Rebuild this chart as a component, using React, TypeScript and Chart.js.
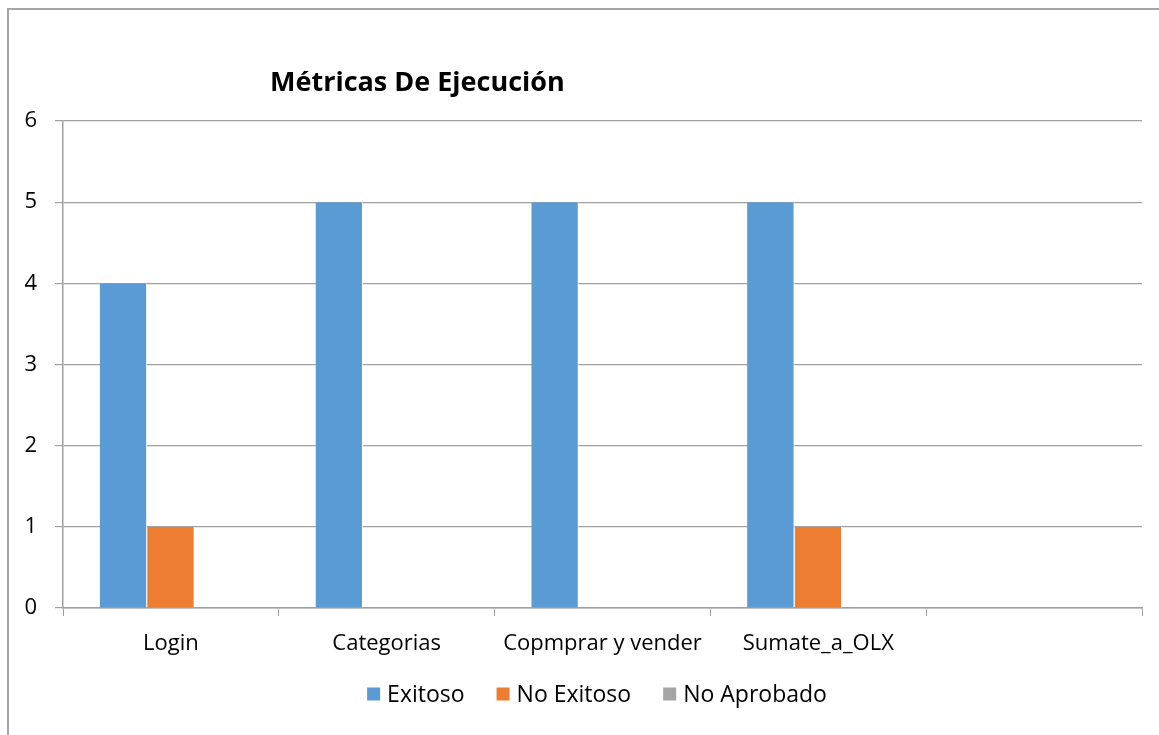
import React, { useEffect, useRef } from "react";
import { Chart, registerables } from "chart.js";

Chart.register(...registerables);

const categories = ["Login", "Categorias", "Copmprar y vender", "Sumate_a_OLX", ""];
const exitoso = [4, 5, 5, 5, null];
const noExitoso = [1, 0, 0, 1, null];
const noAprobado = [0, 0, 0, 0, null];
const yTicks = [0, 1, 2, 3, 4, 5, 6];
const titleText = "Métricas De Ejecución";

const FONT = "'Open Sans', 'Noto Sans', sans-serif";

const framePlugin = {
  id: "frame",
  beforeDraw(chart: any) {
    const { ctx } = chart;
    ctx.save();
    ctx.fillStyle = "#fff";
    ctx.fillRect(0, 0, chart.width, chart.height);
    ctx.strokeStyle = "#A6A6A6";
    ctx.lineWidth = 2;
    ctx.beginPath();
    ctx.moveTo(8, chart.height);
    ctx.lineTo(8, 9);
    ctx.lineTo(chart.width, 9);
    ctx.stroke();
    ctx.restore();
  },
  afterDraw(chart: any) {
    const { ctx } = chart;
    ctx.save();
    ctx.fillStyle = "#000";
    ctx.font = `bold 27px ${FONT}`;
    ctx.textBaseline = "middle";
    ctx.textAlign = "left";
    ctx.fillText(titleText, 270, 83);

    // custom legend (Excel-like placement)
    ctx.font = `23px ${FONT}`;
    const box = 13;
    const gapText = 7;
    const gapItem = 32;
    const items = chart.data.datasets.map((d: any) => ({
      label: d.label,
      color: d.backgroundColor,
      w: ctx.measureText(d.label).width,
    }));
    const total = items.reduce((a: number, it: any) => a + box + gapText + it.w, 0) + gapItem * (items.length - 1);
    let x = 597 - total / 2;
    const cy = 694;
    items.forEach((it: any) => {
      ctx.fillStyle = it.color;
      ctx.fillRect(x, cy - box / 2, box, box);
      x += box + gapText;
      ctx.fillStyle = "#000";
      ctx.fillText(it.label, x, cy + 1);
      x += it.w + gapItem;
    });
    ctx.restore();
  },
};

export default function App() {
  const ref = useRef<HTMLCanvasElement>(null);
  useEffect(() => {
    document.body.style.margin = "0";
    const chart = new Chart(ref.current!, {
      type: "bar",
      data: {
        labels: categories,
        datasets: [
          { label: "Exitoso", data: exitoso as any, backgroundColor: "#5B9BD5", borderColor: "#fff", borderWidth: { right: 1, left: 0, top: 0, bottom: 0 } as any, borderSkipped: false },
          { label: "No Exitoso", data: noExitoso as any, backgroundColor: "#ED7D31", borderColor: "#fff", borderWidth: { right: 1, left: 0, top: 0, bottom: 0 } as any, borderSkipped: false },
          { label: "No Aprobado", data: noAprobado as any, backgroundColor: "#A5A5A5", borderWidth: 0 },
        ],
      },
      options: {
        animation: false,
        responsive: false,
        categoryPercentage: 0.66,
        barPercentage: 1,
        layout: { padding: { left: 8, right: 17, top: 121, bottom: 78 } },
        plugins: {
          title: { display: false },
          tooltip: { enabled: false },
          legend: { display: false },
        },
        scales: {
          x: {
            grid: { drawOnChartArea: false, drawTicks: true, tickLength: 8, color: "#A0A0A0", offset: true },
            border: { color: "#A0A0A0", width: 1.5 },
            ticks: { color: "#000", padding: 15, font: { family: FONT, size: 22 }, maxRotation: 0, autoSkip: false },
            afterFit: (s: any) => { s.height = 49; },
          },
          y: {
            min: 0,
            max: 6,
            afterBuildTicks: (s: any) => { s.ticks = yTicks.map((v) => ({ value: v })); },
            grid: { color: "#A0A0A0", lineWidth: 1.2, tickLength: 8 },
            border: { color: "#A0A0A0", width: 1.5 },
            ticks: { color: "#000", padding: 18, font: { family: FONT, size: 22 } },
            afterFit: (s: any) => { s.width = 55; },
          },
        },
      },
      plugins: [framePlugin],
    });
    return () => chart.destroy();
  }, []);
  return (
    <div style={{ position: "absolute", left: 0, top: 0, width: 1159, height: 735 }}>
      <canvas ref={ref} width={1159} height={735} />
    </div>
  );
}
